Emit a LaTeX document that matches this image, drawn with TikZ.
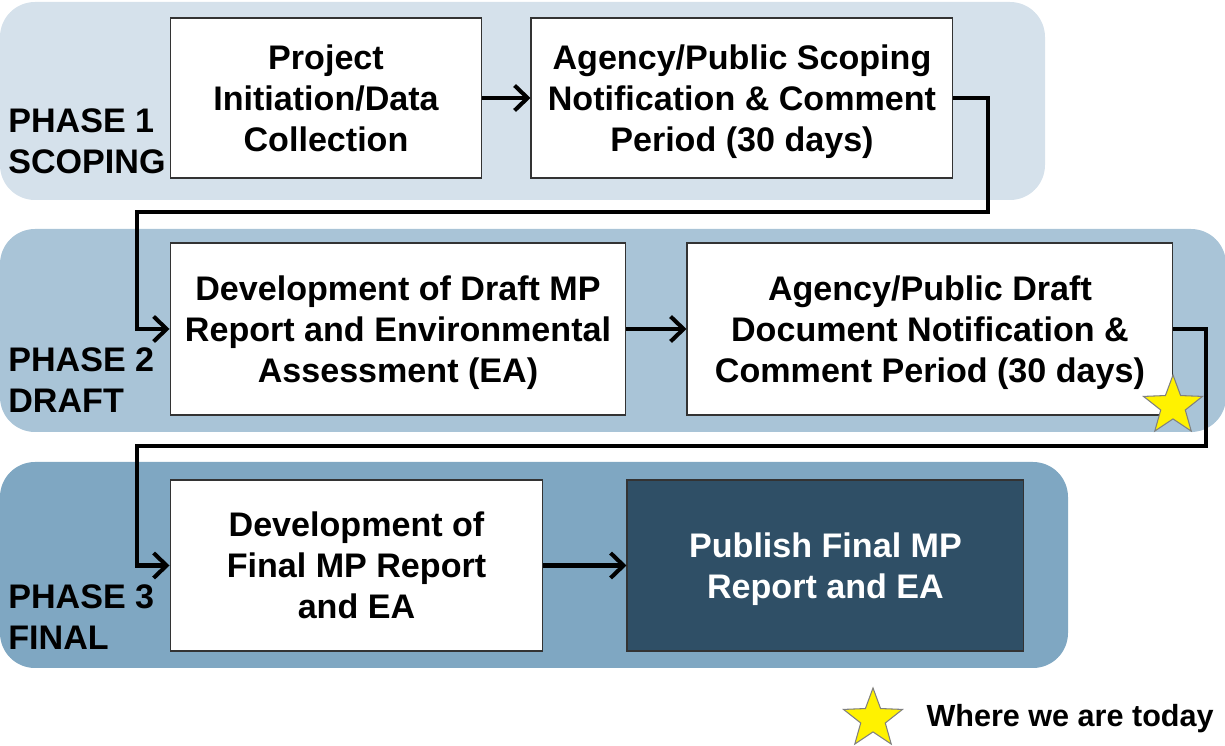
\documentclass[tikz,border=0pt]{standalone}
\usepackage{fontspec}
\setmainfont{Liberation Sans}
\usetikzlibrary{positioning, arrows.meta, shapes.geometric}
\definecolor{bandone}{HTML}{D5E1EB}
\definecolor{bandtwo}{HTML}{A9C4D7}
\definecolor{bandthree}{HTML}{7FA7C2}
\definecolor{finalfill}{HTML}{2F4F66}
\newcommand{\boxfont}{\bfseries\fontsize{19.4}{23.3}\selectfont}
\tikzset{
  stepbox/.style={
    draw=black!80,
    line width=0.6pt,
    rectangle,
    fill=white,
    align=center,
    inner sep=0pt,
    text depth=0pt,
    font=\boxfont
  },
  band/.style={
    rounded corners=0.7cm
  },
  phase/.style={
    anchor=west,
    align=left,
    inner sep=0pt,
    font=\boxfont
  },
  flow/.style={
    line width=2.3pt,
    -{Straight Barb[length=2.6mm, width=5mm]}
  },
  today/.style={
    star,
    star points=5,
    star point ratio=2.4,
    fill=yellow,
    draw=gray,
    line width=0.6pt,
    minimum size=1.24cm,
    inner sep=0pt
  }
}

\begin{document}
\begin{tikzpicture}[x=0.02cm, y=-0.02cm]
        \useasboundingbox (0,0) rectangle (1225,746);
        % phase bands
        \fill[band, bandone] (0,2) rectangle (1045,200);
        \fill[band, bandtwo] (0,229) rectangle (1226,432);
        \fill[band, bandthree] (0,462) rectangle (1068,668);

        \node[phase] (ph1) at (8,141) {PHASE 1\\SCOPING};
        \node[phase] (ph2) at (8,380) {PHASE 2\\DRAFT};
        \node[phase] (ph3) at (8,617) {PHASE 3\\FINAL};

        % steps
        \node[stepbox, minimum width=6.24cm, minimum height=3.2cm] (init) at (326,98) {Project\\Initiation/Data\\Collection};
        \node[stepbox, minimum width=8.44cm, minimum height=3.2cm, right=0.96cm of init] (scope) {Agency/Public Scoping\\Notification \& Comment\\Period (30 days)};
        \node[stepbox, minimum width=9.12cm, minimum height=3.44cm] (draft) at (398,329) {Development of Draft MP\\Report and Environmental\\Assessment (EA)};
        \node[stepbox, minimum width=9.72cm, minimum height=3.44cm, right=1.2cm of draft] (review) {Agency/Public Draft\\Document Notification \&\\Comment Period (30 days)};
        \node[stepbox, minimum width=7.46cm, minimum height=3.42cm] (final) at (356.5,565.5) {Development of\\Final MP Report\\and EA};
        \node[stepbox, minimum width=7.94cm, minimum height=3.42cm, fill=finalfill, text=white, right=1.66cm of final] (publish) {Publish Final MP\\Report and EA};

        \coordinate (turnA) at (988,212);
        \coordinate (turnB) at (137,212);
        \coordinate (turnC) at (1206,446);
        \coordinate (turnD) at (137,446);

        \draw[flow] (init) -- (scope);
        \draw[flow] (scope.east) -| (turnA) -- (turnB) |- (draft.west);
        \draw[flow] (draft) -- (review);
        \draw[flow] (review.east) -| (turnC) -- (turnD) |- (final.west);
        \draw[flow] (final) -- (publish);

        % where we are
        \node[today] (now) at (1173,406) {};
        \node[today] (key) at (873,719) {};
        \node[anchor=west, inner sep=0pt, font=\bfseries\fontsize{17.4}{20}\selectfont, right=0.7cm of key] (keytext) {Where we are today};
      \end{tikzpicture}
\end{document}
